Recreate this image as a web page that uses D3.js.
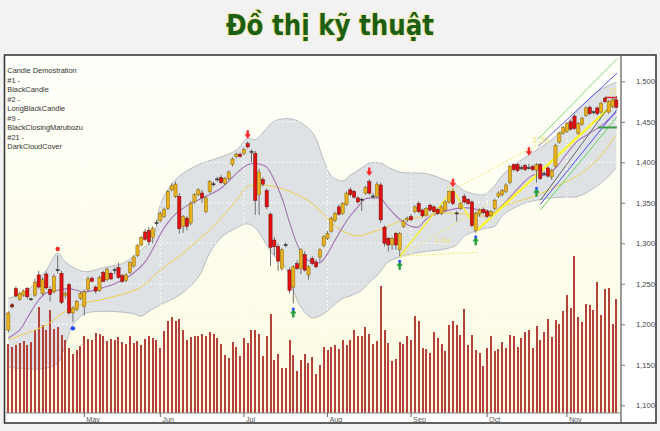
<!DOCTYPE html>
<html><head><meta charset="utf-8">
<script src="https://cdn.jsdelivr.net/npm/d3@7"></script>
<style>
html,body{margin:0;padding:0;background:#f2f2f2;}
svg{display:block;}
</style></head><body>
<svg id="c" width="660" height="431"></svg>
<script>
// ---------- DATA ----------
const titleText = "Đồ thị kỹ thuật";
const legendLines = ["Candle Demostration","#1 -","BlackCandle","#2 -","LongBlackCandle","#9 -","BlackClosingMarubozu","#21 -","DarkCloudCover"];
const monthLabels = ["May","Jun","Jul","Aug","Sep","Oct","Nov"];
const monthIdx = [20,40,62,84,106,126,147];
const priceTicks = [1100,1150,1200,1250,1300,1350,1400,1450,1500];

const open = [1193,1223,1244,1231,1236,1244,1231,1236,1261,1238,
1262,1243,1240,1267,1263,1236,1249,1214,1218,1232,
1222,1243,1257,1246,1242,1264,1255,1263,1267,1270,
1260,1254,1264,1272,1285,1298,1314,1316,1307,1325,
1328,1333,1343,1366,1358,1358,1321,1331,1325,1351,
1360,1362,1339,1364,1373,1379,1381,1374,1380,1397,
1407,1410,1411,1423,1413,1411,1360,1379,1365,1336,
1304,1296,1269,1298,1267,1246,1275,1269,1286,1261,
1281,1277,1283,1297,1306,1315,1328,1345,1337,1348,
1366,1364,1356,1354,1362,1376,1358,1358,1372,1320,
1306,1298,1312,1292,1321,1329,1333,1339,1349,1341,
1335,1347,1345,1342,1337,1341,1351,1364,1337,1343,
1358,1354,1351,1316,1336,1342,1340,1334,1343,1358,
1360,1364,1375,1397,1397,1393,1396,1393,1395,1390,
1397,1386,1393,1382,1395,1425,1436,1438,1450,1457,
1436,1447,1458,1468,1462,1467,1462,1479,1462,1469,
1477];
const high = [1216,1226,1247,1240,1243,1246,1233,1256,1266,1258,
1265,1247,1262,1285,1266,1241,1251,1222,1230,1240,
1243,1259,1259,1248,1260,1266,1270,1265,1270,1276,
1262,1263,1278,1285,1299,1309,1318,1320,1321,1329,
1339,1344,1366,1374,1376,1362,1335,1334,1352,1362,
1368,1366,1358,1378,1376,1382,1384,1382,1390,1406,
1412,1412,1418,1426,1416,1414,1392,1382,1368,1338,
1308,1300,1294,1301,1270,1273,1279,1294,1290,1273,
1284,1280,1294,1310,1315,1333,1339,1348,1351,1364,
1369,1366,1358,1356,1371,1379,1362,1376,1375,1322,
1308,1308,1314,1314,1329,1333,1336,1347,1352,1343,
1345,1349,1347,1344,1347,1353,1366,1368,1340,1351,
1361,1356,1353,1339,1343,1344,1342,1341,1355,1364,
1367,1374,1397,1399,1399,1396,1398,1398,1397,1399,
1399,1389,1395,1392,1423,1438,1445,1450,1453,1459,
1450,1456,1469,1470,1464,1469,1475,1481,1477,1479,
1480];
const low = [1190,1220,1233,1229,1234,1231,1229,1234,1244,1236,
1243,1228,1238,1263,1225,1232,1212,1203,1216,1230,
1211,1241,1252,1238,1240,1252,1253,1255,1262,1256,
1251,1252,1262,1270,1283,1296,1303,1298,1300,1322,
1326,1331,1341,1364,1356,1312,1313,1316,1322,1349,
1358,1350,1337,1362,1370,1376,1373,1372,1378,1395,
1405,1406,1409,1417,1400,1335,1335,1370,1342,1272,
1285,1266,1266,1295,1238,1226,1267,1262,1265,1255,
1273,1269,1277,1295,1304,1313,1326,1334,1335,1346,
1358,1355,1349,1340,1360,1360,1355,1356,1325,1296,
1290,1292,1292,1284,1319,1326,1327,1337,1337,1332,
1333,1339,1337,1335,1335,1339,1349,1347,1327,1341,
1349,1347,1320,1313,1333,1336,1331,1332,1341,1356,
1358,1362,1373,1389,1388,1390,1389,1391,1389,1375,
1378,1383,1381,1378,1393,1423,1434,1436,1439,1440,
1434,1445,1456,1458,1459,1458,1460,1473,1460,1467,
1466];
const close = [1214,1223,1235,1238,1241,1234,1231.5,1252,1246,1255,
1245,1237,1259,1267.5,1227,1238,1214,1220,1228,1238,
1240,1256,1253,1241,1258,1253,1268,1256,1267.5,1258,
1253,1261,1276,1283,1297,1307,1305,1302,1318,1325.5,
1337,1342,1364,1371,1373,1318,1333,1321,1349,1360,
1366,1356,1356,1376,1373.5,1379.5,1375,1380,1388,1404,
1410,1407,1416,1419,1413.5,1353,1388,1373,1345,1295,
1296,1278,1292,1298.5,1242,1271,1269,1292,1267,1271,
1275,1271,1292,1308,1312,1331,1337,1336,1349,1362,
1360,1357,1351,1354.5,1369,1362,1358.5,1373,1329,1300,
1298,1306,1298,1312,1327,1331,1329,1345,1339,1334,
1343,1341,1339,1337,1345,1351,1364,1349,1337.5,1349,
1351,1349,1322,1337,1341,1338,1333,1339,1353,1362,
1365,1372,1395,1391,1390,1393.5,1391,1393.5,1391,1397,
1380,1386.5,1383,1390,1421,1436,1443,1448,1441,1442,
1448,1454,1467,1460,1462.5,1460,1473,1475,1475,1477,
1468];
const volume = [69,66,68,70,72,68,71,83,106,88,
83,103,84,86,78,73,65,59,63,67,
77,74,73,80,79,77,72,74,73,76,
71,69,77,70,72,68,74,77,75,73,
65,82,92,96,92,94,83,73,76,77,
77,79,77,81,79,75,69,58,55,71,
66,57,75,70,83,83,79,57,77,99,
53,59,45,45,73,58,42,53,59,50,
56,39,48,66,63,66,68,64,73,68,
73,83,77,77,86,79,69,72,127,83,
70,52,54,71,69,77,73,97,92,65,
64,60,81,75,69,62,88,92,88,78,
104,68,78,63,60,47,65,77,62,64,
71,65,78,77,66,75,81,83,65,87,
73,81,94,76,93,89,102,118,105,157,
96,91,109,108,103,131,98,124,125,89,
114];

const upperIdx = [0,5,10,13,15,20,25,30,35,38,40,42,45,50,55,60,63,65,68,70,75,80,83,85,88,90,93,95,98,100,103,105,110,115,118,120,125,128,130,135,140,145,150,155,160];
const upperVal = [1232,1242,1267,1288,1277,1265,1270,1275,1292,1306,1347,1366,1383,1397,1405,1415,1430,1428,1442,1451,1453,1437,1403,1383,1377,1384,1393,1399,1399,1394,1388,1387,1386,1378,1372,1365,1360,1371,1384,1403,1418,1436,1465,1487,1499];
const lowerIdx = [0,5,10,13,15,17,20,25,30,33,35,37,40,45,50,53,56,60,63,65,68,70,73,75,77,80,83,85,88,90,93,95,97,100,103,105,110,115,118,120,123,125,128,130,135,140,145,150,155,158,160];
const lowerVal = [1147,1145,1146,1152,1175,1199,1213,1216,1215,1213,1210,1216,1224,1236,1258,1288,1307,1319,1324,1319,1298,1284,1270,1242,1221,1208,1213,1221,1232,1235,1242,1252,1260,1277,1283,1286,1290,1293,1298,1309,1315,1318,1321,1334,1348,1354,1357,1358,1371,1383,1393];
const purpleIdx = [0,3,5,8,10,13,16,20,24,28,32,36,41,44,48,52,56,60,63,66,68,70,72,74,76,78,80,82,84,86,88,90,92,94,96,98,100,102,104,106,108,110,113,116,120,124,127,130,134,138,141,144,147,150,153,156,160];
const purpleVal = [1183,1193,1208,1230,1239,1242,1244,1240,1244,1250,1260,1277,1319,1336,1349,1358,1368,1386,1397,1398,1394,1378,1356,1326,1299,1282,1277,1276,1287,1304,1320,1334,1345,1355,1356,1355,1344,1334,1326,1321,1320,1330,1337,1341,1344,1341,1336,1347,1367,1384,1384,1393,1411,1427,1436,1445,1462];
const yellowIdx = [0,7,11,15,20,25,30,35,40,45,50,55,60,63,66,70,75,80,85,88,92,96,100,104,108,113,118,122,126,130,135,140,145,150,155,160];
const yellowVal = [1181,1193,1202,1216,1226,1231,1237,1246,1267,1284,1304,1326,1353,1370,1372,1370,1362,1349,1326,1315,1309,1314,1321,1329,1332,1337,1337,1335,1334,1345,1353,1361,1372,1384,1403,1434];

const redArrowIdx = [63,95,117,137];
const redArrowPrice = [1434,1388,1374,1413];
const greenArrowIdx = [75,103,123,139];
const greenArrowPrice = [1214,1273,1303,1363];

const blueUpper = [[139.5,1420],[160.2,1510]];
const blueLower = [[140,1348],[160.2,1465]];
const greenUpper = [[139.3,1428],[160.2,1528]];
const greenLower = [[140,1341],[160.2,1456]];
const regLine = [[140,1353],[160.2,1482]];
const yellowTrend = [[123.3,1316],[160.2,1476]];
const zigzag = [[103,1284],[117,1366],[123.3,1316]];
const fibLine = [[117,1366],[141.5,1427]];
const dotLine = [[103,1284],[126.8,1350]];
const retrLine = [[103,1284],[124,1289]];
const redLevel = [[157,1480],[160.2,1480]];
const greenLevel = [[155.2,1443],[160.2,1443]];

// ---------- CHART ----------
const svg = d3.select("#c");
const P = {l:6, r:621, t:56, b:413};
const x = d3.scaleLinear().domain([0,160]).range([8.3,616.3]);
const y = d3.scaleLinear().domain([1100,1500]).range([405.3,81.3]);
const yv = d3.scaleLinear().domain([0,160]).range([P.b,P.b-160]);

const defs = svg.append("defs");
const g1 = defs.append("linearGradient").attr("id","bg").attr("x1",0).attr("y1",0).attr("x2",0).attr("y2",1);
g1.append("stop").attr("offset","0%").attr("stop-color","#fffffa");
g1.append("stop").attr("offset","100%").attr("stop-color","#fcfbe2");
defs.append("clipPath").attr("id","clip").append("rect")
  .attr("x",P.l).attr("y",P.t).attr("width",P.r-P.l).attr("height",P.b-P.t);

// title
svg.append("text").attr("x",330).attr("y",35).attr("text-anchor","middle")
  .attr("font-family","'DejaVu Sans Condensed','DejaVu Sans',sans-serif")
  .attr("font-weight","bold").attr("font-size",28)
  .attr("fill","#1b5e14").attr("stroke","#efe9a0").attr("stroke-width",1.6)
  .attr("paint-order","stroke").attr("textLength",208).attr("lengthAdjust","spacingAndGlyphs")
  .text(titleText);

// frame
svg.append("rect").attr("x",4.5).attr("y",55).attr("width",651.5).attr("height",368)
  .attr("fill","#ffffff").attr("stroke","#3a3a3a").attr("stroke-width",1.6);
svg.append("rect").attr("x",P.l).attr("y",P.t).attr("width",P.r-P.l).attr("height",P.b-P.t)
  .attr("fill","url(#bg)");

const plot = svg.append("g").attr("clip-path","url(#clip)");

// bollinger band
const curve = d3.curveCatmullRom.alpha(0.5);
const ln = d3.line().x(d=>x(d[0])).y(d=>y(d[1])).curve(curve);
const upPts = upperIdx.map((d,i)=>[d,upperVal[i]]);
const loPts = lowerIdx.map((d,i)=>[d,lowerVal[i]]);
const upPath = ln(upPts);
const loRev = ln(loPts.slice().reverse());
plot.append("path").attr("d", upPath + "L" + loRev.slice(1) + "Z")
  .attr("fill","#dee2e5").attr("stroke","none");
plot.append("path").attr("d",upPath).attr("fill","none").attr("stroke","#b9bdc1").attr("stroke-width",1);
plot.append("path").attr("d",ln(loPts)).attr("fill","none").attr("stroke","#b9bdc1").attr("stroke-width",1);

// grid
plot.selectAll(".hg").data(priceTicks).join("line")
  .attr("x1",P.l).attr("x2",P.r).attr("y1",d=>y(d)).attr("y2",d=>y(d))
  .attr("stroke","#ffffff").attr("stroke-opacity",0.8).attr("stroke-dasharray","2,2").attr("stroke-width",1);
plot.selectAll(".vg").data(monthIdx).join("line")
  .attr("x1",d=>x(d)).attr("x2",d=>x(d)).attr("y1",P.t).attr("y2",P.b)
  .attr("stroke","#ffffff").attr("stroke-opacity",0.8).attr("stroke-dasharray","2,2").attr("stroke-width",1);

// volume
plot.selectAll(".vol").data(volume).join("rect")
  .attr("x",(d,i)=>Math.round(x(i))-1).attr("width",2)
  .attr("y",d=>yv(d)).attr("height",d=>P.b-yv(d))
  .attr("shape-rendering","crispEdges")
  .attr("fill","#b4413a");

// moving averages
plot.append("path").attr("d",ln(yellowIdx.map((d,i)=>[d,yellowVal[i]])))
  .attr("fill","none").attr("stroke","#f0d04e").attr("stroke-width",1);
plot.append("path").attr("d",ln(purpleIdx.map((d,i)=>[d,purpleVal[i]])))
  .attr("fill","none").attr("stroke","#a474b6").attr("stroke-width",1.1);

// trend lines
const sl = d3.line().x(d=>x(d[0])).y(d=>y(d[1]));
function tline(pts,col,w,dash){
  const p = plot.append("path").attr("d",sl(pts)).attr("fill","none").attr("stroke",col).attr("stroke-width",w);
  if(dash) p.attr("stroke-dasharray",dash);
}
tline(greenUpper,"#7be07b",1);
tline(greenLower,"#5fd65f",1);
tline(blueUpper,"#5a5af0",1);
tline(blueLower,"#4a4af0",1);
tline(fibLine,"#f2ea60",1,"2,2");
tline(dotLine,"#f2ea60",1,"2,2");
tline(retrLine,"#f2ea60",1,"2,2");
tline(zigzag,"#f7ef2a",1.4);
tline(yellowTrend,"#fbf52a",2.4);
tline(regLine,"#444444",0.8);
tline(redLevel,"#e02020",1.5);
tline(greenLevel,"#3f9a4a",2);

// candles
const idx = d3.range(open.length);
const cg = plot.append("g");
cg.selectAll(".wick").data(idx).join("line")
  .attr("x1",i=>x(i)).attr("x2",i=>x(i))
  .attr("y1",i=>y(high[i])).attr("y2",i=>y(low[i]))
  .attr("stroke","#6f6f6f").attr("stroke-width",1);
cg.selectAll(".body").data(idx).join("rect")
  .attr("x",i=>x(i)-1.6).attr("width",3.2)
  .attr("y",i=>y(Math.max(open[i],close[i])))
  .attr("height",i=>Math.max(1,Math.abs(y(open[i])-y(close[i]))))
  .attr("fill",i=>Math.abs(close[i]-open[i])<=1 ? "#333333" : (close[i]>open[i] ? "#e8b01c" : "#e3100e"))
  .attr("stroke",i=>Math.abs(close[i]-open[i])<=1 ? "#333333" : (close[i]>open[i] ? "#8c6a08" : "#6a0b0b"))
  .attr("stroke-width",0.5);

// markers
plot.append("circle").attr("cx",x(13)).attr("cy",y(1293)).attr("r",2.2).attr("fill","#ff2a2a");
plot.append("circle").attr("cx",x(17)).attr("cy",y(1195)).attr("r",2.2).attr("fill","#2244ff");
plot.append("circle").attr("cx",x(1)).attr("cy",y(1223)).attr("r",1.8).attr("fill","#8a2a10");
const downArrow = "M-1.2,-4.5L1.2,-4.5L1.2,-0.5L3.2,-0.5L0,4L-3.2,-0.5L-1.2,-0.5Z";
const upArrow = "M-1.2,4.5L1.2,4.5L1.2,0.5L3.2,0.5L0,-4L-3.2,0.5L-1.2,0.5Z";
plot.selectAll(".ra").data(redArrowIdx).join("path")
  .attr("d",downArrow).attr("transform",(d,i)=>`translate(${x(d)},${y(redArrowPrice[i])})`)
  .attr("fill","#ff2b2b");
plot.selectAll(".ga").data(greenArrowIdx).join("path")
  .attr("d",upArrow).attr("transform",(d,i)=>`translate(${x(d)},${y(greenArrowPrice[i])})`)
  .attr("fill","#22a03a");
plot.selectAll(".gd").data(greenArrowIdx).join("circle")
  .attr("cx",d=>x(d)).attr("cy",(d,i)=>y(greenArrowPrice[i])-4).attr("r",1.5).attr("fill","#2a4cff");

// annotation texts
const at = plot.append("g").attr("font-family","'Liberation Sans',Arial,sans-serif").attr("fill","#ece27a");
at.append("text").attr("x",x(137.8)).attr("y",y(1424)).attr("font-size",9).text("3.38");
at.append("text").attr("x",x(112.3)).attr("y",y(1300)).attr("font-size",8).text("0.68");
at.append("text").attr("x",x(158.5)).attr("y",y(1484)).attr("font-size",9).text("D");
at.append("text").attr("x",x(115.5)).attr("y",y(1365)).attr("font-size",7).text("D");

// legend text
svg.append("g").attr("font-family","'Liberation Sans',Arial,sans-serif").attr("font-size",7.4).attr("fill","#333")
  .selectAll("text").data(legendLines).join("text")
  .attr("x",7.3).attr("y",(d,i)=>73.3+i*9.5).text(d=>d);

// right axis panel
svg.append("rect").attr("x",P.r).attr("y",P.t).attr("width",655-P.r).attr("height",P.b-P.t).attr("fill","#ffffff");
const ax = svg.append("g").attr("transform",`translate(${P.r},0)`)
  .call(d3.axisRight(y).tickValues(priceTicks).tickSize(4).tickPadding(11).tickFormat(d3.format(",")));
ax.select(".domain").remove();
ax.selectAll("line").attr("stroke","#777");
ax.selectAll("text").attr("font-family","'Liberation Sans',Arial,sans-serif").attr("font-size",7.6).attr("fill","#444");
svg.append("line").attr("x1",P.r).attr("x2",P.r).attr("y1",P.t).attr("y2",422)
  .attr("stroke","#7a7a7a").attr("stroke-width",1.5);

// bottom month axis
svg.append("line").attr("x1",P.l).attr("x2",P.r).attr("y1",P.b).attr("y2",P.b).attr("stroke","#8a8a8a").attr("stroke-width",1);
const mg = svg.append("g");
mg.selectAll("line").data(monthIdx).join("line")
  .attr("x1",d=>x(d)).attr("x2",d=>x(d)).attr("y1",P.b).attr("y2",P.b+4).attr("stroke","#666");
mg.selectAll("text").data(monthIdx).join("text")
  .attr("x",d=>x(d)+2).attr("y",421.5).attr("font-family","'Liberation Sans',Arial,sans-serif")
  .attr("font-size",7.2).attr("fill","#555").text((d,i)=>monthLabels[i]);
</script>
</body></html>
